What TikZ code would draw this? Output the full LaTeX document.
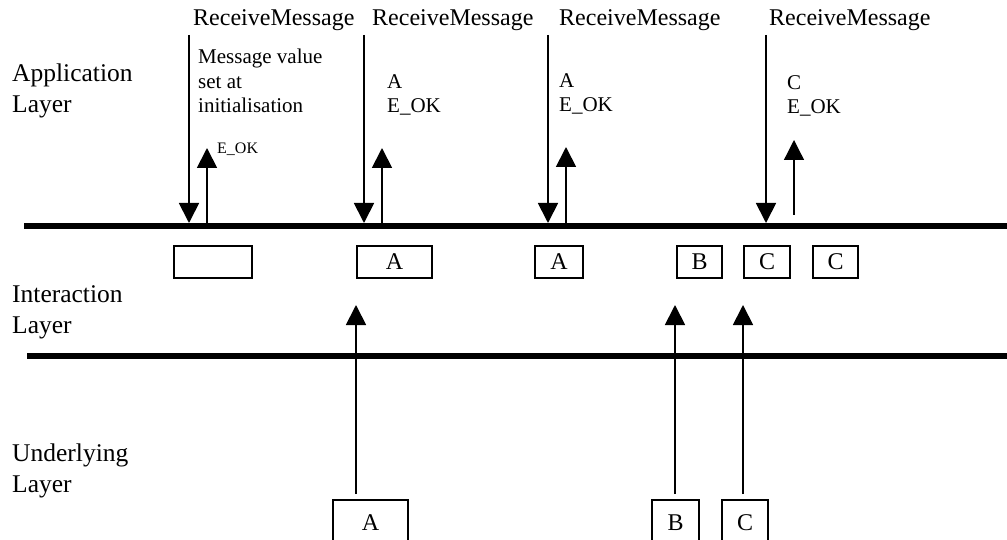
\documentclass[tikz,border=0pt]{standalone}
\usepackage{fontspec}
\setmainfont{Liberation Serif}
\usepackage{tikz}
\usetikzlibrary{arrows.meta,positioning}

\begin{document}
\begin{tikzpicture}[x=1pt,y=-1pt,
    layerline/.style={line width=6.5pt},
    msgarrow/.style={line width=1.8pt,-{Triangle[length=20pt,width=20pt]}},
    layername/.style={font=\fontsize{25.5}{31}\selectfont,align=left,anchor=north west,inner sep=0pt},
    callname/.style={font=\fontsize{24}{28}\selectfont,anchor=base west,inner sep=0pt},
    retnote/.style={font=\fontsize{21}{24.5}\selectfont,align=left,anchor=north west,inner sep=0pt},
    bufbox/.style={draw,line width=1.8pt,minimum width=#1,minimum height=32pt,inner sep=0pt,font=\fontsize{24}{28}\selectfont},
    srcbox/.style={draw,line width=1.8pt,minimum width=#1,inner sep=0pt,anchor=base,text height=30pt,text depth=30pt,font=\fontsize{24}{28}\selectfont}]
        \clip (0,0) rectangle (1007,540);
        % layers
        \node[layername] (app) at (12,64) {Application\\Layer};
        \node[layername] (inter) at (12,285) {Interaction\\Layer};
        \node[layername] (under) at (12,444) {Underlying\\Layer};
        \draw[layerline] (24,226) -- (1007,226);
        \draw[layerline] (27,356) -- (1007,356);
        % calls from the application
        \foreach \x/\n in {193/1, 372/2, 559/3, 769/4}
            \node[callname] (recv\n) at (\x,26) {ReceiveMessage};
        \foreach \x/\n in {189/1, 364/2, 548/3, 766/4} {
            \coordinate (dn\n) at (\x,35);
            \coordinate (hit\n) at (\x,223);
            \draw[msgarrow] (dn\n) -- (hit\n);
        }
        \foreach \x/\y/\n in {207/148/1, 382/148/2, 566/147/3} {
            \coordinate (rs\n) at (\x,223);
            \coordinate (rt\n) at (\x,\y);
            \draw[msgarrow] (rs\n) -- (rt\n);
        }
        \coordinate (rs4) at (794,215);
        \coordinate (rt4) at (794,140);
        \draw[msgarrow,line width=1.3pt] (rs4) -- (rt4);
        \node[retnote] (init) at (198,49) {Message value\\set at\\initialisation};
        \node[font=\fontsize{16}{18}\selectfont,anchor=base west,inner sep=0pt] (ok1) at (217,154) {E\_OK};
        \node[retnote] (ret2) at (387,74) {A\\E\_OK};
        \node[retnote] (ret3) at (559,73) {A\\E\_OK};
        \node[retnote] (ret4) at (787,75) {C\\E\_OK};
        % message buffers
        \foreach \x/\w/\t/\n in {213/78/{}/1, 394.5/75/A/2, 559/48/A/3, 699.5/45/B/4, 767/46/C/5, 835.5/45/C/6}
            \node[bufbox=\w] (buf\n) at (\x,262) {\t};
        % underlying layer
        \foreach \x/\w/\t in {370.5/75/A, 675.5/47/B, 745/46/C}
            \node[srcbox=\w] (src\t) at (\x,530) {\t};
        \foreach \x/\t in {356/A, 675/B, 743/C} {
            \coordinate (up\t) at (\x,494);
            \coordinate (in\t) at (\x,305);
            \draw[msgarrow] (up\t) -- (in\t);
        }
    \end{tikzpicture}
\end{document}
